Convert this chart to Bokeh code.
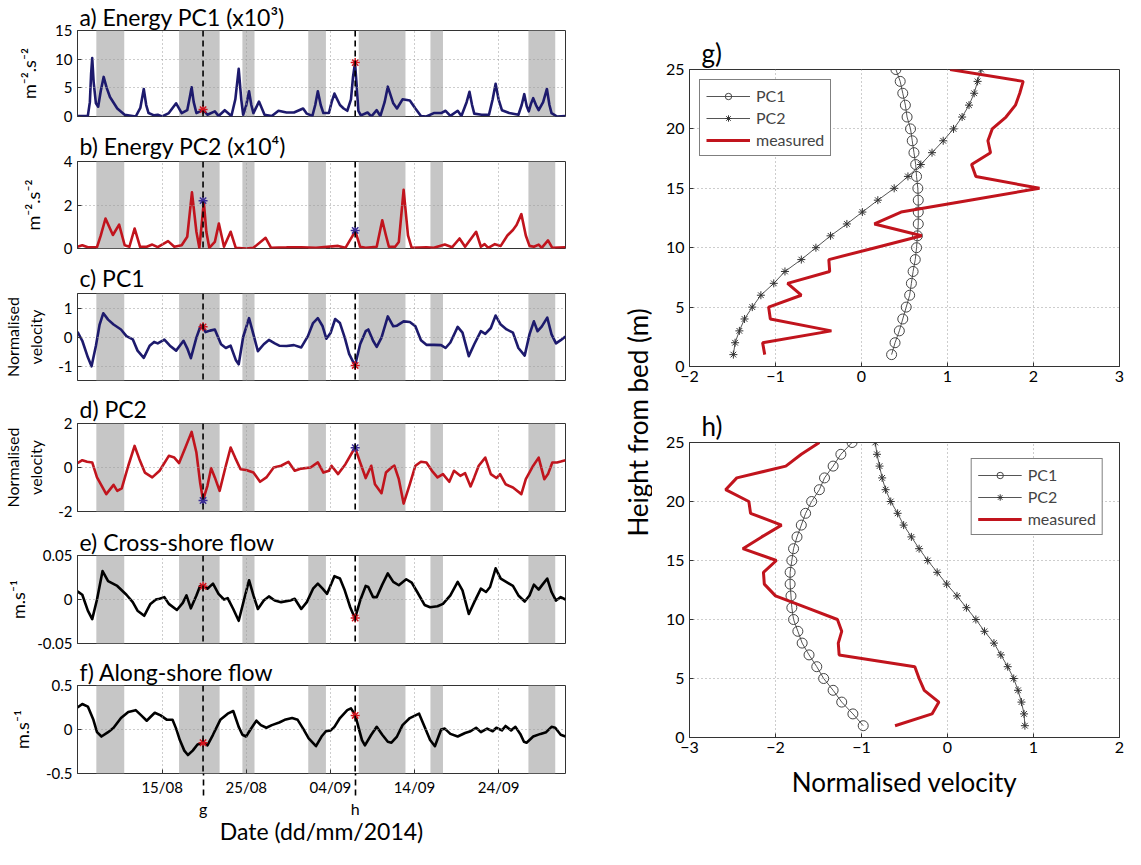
import math
from bokeh.plotting import figure
from bokeh.models import Range1d, FixedTicker, BoxAnnotation, Span, Legend, LegendItem, LinearAxis
from bokeh.layouts import row, column
from bokeh.embed import file_html
from bokeh.resources import INLINE
from bokeh.core.properties import value

FONT = "Lato"
NAVY = "#1d1a6d"
RED = "#c1141d"
STAR_RED = "#d4141e"
STAR_BLUE = "#3b2d96"
SHADE = "#c6c6c6"
GRIDC = "#9a9a9a"

# ---------------- time axis: days since 1 Aug 2014 00:00 ----------------
T_START, T_END = 3.93, 61.96
DATE_TICKS = [14, 24, 34, 44, 54]
DATE_LABELS = ["15/08", "25/08", "04/09", "14/09", "24/09"]
EVENT_T = [18.86, 36.95]
EVENT_LABELS = ["g", "h"]
SHADE_START = [6.17, 16.01, 23.54, 31.37, 37.37, 45.90, 57.55]
SHADE_END = [9.49, 20.83, 24.98, 33.47, 42.93, 47.39, 60.74]

# a) Energy PC1 (x10^3)
A_DATA = [(3.93,0.1),(5.16,0.1),(5.40,2.5),(5.55,7.5),(5.68,10.2),(5.85,6.0),(6.12,2.3),(6.39,1.7),
          (6.70,4.5),(7.04,6.9),(7.40,5.0),(7.79,3.4),(8.66,1.4),(9.54,0.3),(10.85,0.0),(11.40,1.5),
          (11.81,4.8),(12.10,2.0),(12.38,0.6),(13.04,0.2),(13.47,0.3),(14.00,0.0),(14.79,0.6),(15.66,2.3),
          (16.32,0.6),(16.98,1.1),(17.30,3.5),(17.50,5.1),(17.75,2.5),(18.07,0.6),(18.55,0.9),(18.86,1.2),
          (19.38,0.3),(20.26,0.9),(20.70,0.1),(21.44,1.1),(22.23,0.1),(22.70,3.0),(23.10,8.3),(23.40,3.0),
          (23.63,0.3),(24.00,2.0),(24.33,4.4),(24.60,2.0),(24.85,0.6),(25.51,2.6),(26.17,0.3),(27.04,0.1),
          (27.83,1.0),(28.79,0.7),(29.67,0.7),(30.76,1.4),(31.20,0.5),(31.86,0.1),(32.20,2.0),(32.51,4.4),
          (32.85,2.0),(33.17,0.6),(33.83,0.6),(34.15,2.5),(34.48,4.0),(35.14,2.0),(35.58,1.4),(36.01,1.0),
          (36.45,3.0),(36.70,7.0),(36.93,9.3),(37.10,6.0),(37.33,1.0),(37.63,0.2),(38.42,0.7),(38.86,0.0),
          (39.51,1.1),(39.95,0.1),(40.45,2.5),(40.83,5.2),(41.48,2.3),(41.92,1.4),(42.58,3.0),(43.45,2.8),
          (44.11,1.4),(44.77,0.1),(45.42,0.0),(46.30,0.6),(47.17,0.6),(47.70,1.0),(48.27,0.1),(49.14,1.0),
          (49.58,0.1),(50.20,2.5),(50.54,4.3),(50.85,2.0),(51.11,0.5),(51.99,0.3),(52.86,0.3),(53.30,3.0),
          (53.65,5.7),(54.00,3.0),(54.40,1.1),(55.27,0.6),(56.36,0.3),(56.75,2.0),(57.06,3.9),(57.35,1.8),
          (57.59,0.9),(57.85,2.2),(58.12,3.2),(58.45,2.0),(58.77,1.1),(59.30,2.5),(59.75,4.8),(60.05,2.0),
          (60.30,0.6),(60.96,0.0),(61.96,0.1)]
A_STARS = [1.2, 9.4]

# b) Energy PC2 (x10^4)
B_DATA = [(3.93,0.08),(4.50,0.15),(5.16,0.06),(6.25,0.06),(6.70,0.6),(7.26,1.38),(8.14,0.62),(8.88,1.1),
          (9.54,0.15),(10.10,0.08),(10.72,0.92),(11.37,0.08),(12.16,0.08),(12.82,0.18),(13.47,0.06),
          (14.70,0.34),(15.44,0.08),(16.32,0.15),(16.98,0.54),(17.54,2.58),(18.07,0.77),(18.42,0.03),
          (18.73,1.23),(18.95,2.15),(19.25,0.77),(19.60,0.03),(20.26,0.3),(20.74,1.15),(21.35,0.08),
          (22.14,0.77),(22.75,0.03),(23.98,0.0),(24.85,0.03),(26.30,0.49),(26.95,0.03),(28.79,0.05),
          (29.23,0.06),(30.54,0.05),(32.29,0.03),(34.92,0.12),(35.79,0.03),(36.67,0.6),(36.93,0.85),
          (37.54,0.08),(38.20,0.03),(39.51,0.08),(40.17,1.3),(40.61,0.6),(40.96,0.08),(41.70,0.08),
          (42.14,0.3),(42.71,2.7),(43.23,0.6),(43.67,0.03),(45.42,0.06),(46.30,0.03),(47.61,0.18),
          (48.49,0.06),(49.36,0.46),(50.02,0.08),(51.33,0.77),(51.90,0.08),(52.34,0.2),(52.77,0.03),
          (53.56,0.2),(54.26,0.12),(55.05,0.6),(55.71,0.85),(56.14,1.08),(56.71,1.58),(57.24,0.6),
          (57.68,0.12),(58.20,0.08),(58.77,0.18),(59.13,0.03),(59.88,0.37),(60.39,0.03),(61.96,0.06)]
B_STARS = [2.2, 0.83]

# c) PC1
C_DATA = [(3.93,0.18),(4.50,-0.13),(5.16,-0.70),(5.60,-1.01),(6.12,-0.30),(6.56,0.43),(7.00,0.82),
          (7.57,0.60),(8.22,0.43),(9.10,0.26),(9.75,0.03),(10.50,-0.08),(11.07,-0.47),(11.81,-0.72),
          (12.51,-0.30),(13.04,-0.17),(13.47,-0.22),(14.26,-0.09),(14.92,-0.30),(15.66,-0.47),
          (16.54,-0.13),(16.98,-0.39),(17.41,-0.73),(18.07,-0.02),(18.55,0.37),(18.86,0.34),(19.16,0.17),
          (19.69,0.22),(20.26,0.26),(21.00,-0.25),(21.57,-0.38),(22.14,-0.30),(22.75,-0.79),(23.10,-0.94),
          (23.63,0.0),(24.33,0.65),(24.85,0.09),(25.38,-0.49),(26.08,-0.25),(26.69,-0.10),(27.39,-0.22),
          (27.92,-0.30),(28.79,-0.31),(29.67,-0.28),(30.54,-0.36),(31.33,0.03),(31.94,0.48),(32.51,0.65),
          (33.08,0.37),(33.52,-0.06),(34.04,0.15),(34.57,0.62),(35.14,0.48),(35.71,-0.02),(36.23,-0.58),
          (36.93,-0.99),(37.54,-0.25),(38.20,0.20),(38.51,0.26),(39.08,-0.13),(39.51,-0.34),(40.08,-0.02),
          (40.83,0.71),(41.48,0.37),(41.92,0.39),(42.71,0.54),(43.45,0.52),(44.11,0.37),(44.77,-0.11),
          (45.42,-0.27),(46.30,-0.27),(47.17,-0.28),(47.70,-0.38),(48.27,-0.19),(49.14,0.35),(49.71,0.15),
          (50.46,-0.66),(51.11,-0.25),(51.90,0.20),(52.42,0.11),(53.08,0.31),(53.65,0.74),(54.26,0.43),
          (54.96,0.26),(55.71,0.15),(56.36,-0.38),(57.11,-0.64),(57.68,0.09),(58.20,0.54),(58.64,0.20),
          (59.13,0.36),(59.79,0.67),(60.30,0.09),(60.83,-0.22),(61.39,-0.11),(61.96,0.02)]
C_STARS = [0.35, -0.98]

# d) PC2
D_DATA = [(3.93,0.20),(4.50,0.33),(5.07,0.26),(5.68,0.23),(6.25,-0.45),(7.35,-1.21),(8.22,-0.79),
          (8.66,-1.06),(9.19,-0.95),(9.97,0.08),(10.72,0.98),(11.29,0.38),(11.94,-0.23),(12.82,-0.45),
          (13.69,-0.15),(14.79,0.53),(15.44,0.45),(16.01,0.20),(16.76,0.91),(17.50,1.62),(18.07,0.68),
          (18.51,-0.68),(18.86,-1.48),(19.38,-0.83),(19.82,-0.03),(20.26,-0.45),(20.83,-1.06),(21.57,0.08),
          (22.14,0.91),(22.67,0.45),(23.32,-0.08),(23.98,-0.11),(24.85,-0.23),(25.64,-0.65),(26.39,-0.45),
          (27.26,0.0),(28.14,0.08),(29.01,0.26),(29.76,-0.15),(30.54,-0.05),(31.64,0.0),(32.51,0.23),
          (33.17,-0.23),(33.83,-0.15),(34.13,0.08),(34.92,-0.30),(35.79,0.15),(36.93,0.91),(37.54,0.23),
          (38.20,-0.48),(38.86,0.08),(39.30,-0.76),(40.08,-1.17),(40.61,-0.23),(41.26,0.0),(41.61,0.08),
          (42.14,-0.53),(42.71,-1.64),(43.45,-0.76),(44.11,0.08),(44.77,0.26),(45.42,0.23),(46.08,-0.15),
          (46.74,-0.45),(47.39,-0.30),(48.14,-0.65),(48.70,-0.15),(49.45,-0.38),(50.02,-0.26),(50.67,-0.86),
          (51.11,-0.45),(51.64,0.08),(52.42,0.45),(53.08,-0.30),(53.74,-0.48),(54.18,-0.30),(54.83,-0.76),
          (55.71,-0.91),(56.71,-1.21),(57.24,-0.53),(58.12,0.08),(58.77,0.45),(59.44,-0.53),(59.88,-0.30),
          (60.39,0.23),(60.96,0.23),(61.39,0.27),(61.96,0.33)]
D_STARS = [-1.5, 0.9]

# e) Cross-shore flow (m/s)
E_DATA = [(3.93,0.0092),(4.50,0.0054),(5.16,-0.0127),(5.68,-0.0223),(6.25,0.0),(6.91,0.0323),
          (7.57,0.0208),(8.66,0.0154),(9.75,0.0054),(10.50,-0.003),(11.07,-0.0127),(11.86,-0.0185),
          (12.60,-0.005),(13.26,0.0),(13.69,0.0008),(14.26,0.0027),(14.79,-0.005),(15.75,-0.0119),
          (16.45,-0.0038),(16.89,0.0046),(17.41,-0.010),(18.07,0.0046),(18.51,0.0154),(18.86,0.0154),
          (19.38,0.0123),(20.04,0.018),(20.70,0.0065),(21.35,0.0),(21.79,0.0015),(22.45,-0.0108),
          (23.10,-0.0242),(23.76,0.0008),(24.33,0.0219),(24.85,0.0046),(25.38,-0.0108),(26.08,-0.0012),
          (26.69,0.0035),(27.39,-0.0012),(28.14,-0.003),(29.23,-0.0012),(29.76,0.0008),(30.54,-0.0108),
          (31.20,-0.003),(31.94,0.0123),(32.51,0.018),(33.08,0.0123),(33.61,0.0065),(34.48,0.0265),
          (35.14,0.0238),(35.71,0.0104),(36.36,-0.0088),(36.93,-0.0215),(37.54,-0.0012),(38.20,0.0154),
          (38.51,0.0142),(39.08,0.0027),(39.51,0.0027),(40.17,0.0169),(40.83,0.0296),(41.48,0.020),
          (42.14,0.0162),(43.02,0.023),(43.67,0.0192),(44.33,0.0085),(45.20,-0.0062),(45.86,-0.0088),
          (46.74,-0.0077),(47.39,-0.005),(48.27,0.0046),(49.14,0.020),(49.71,0.0104),(50.46,-0.0165),
          (51.11,-0.003),(51.90,0.0123),(52.51,0.0085),(52.99,0.0142),(53.65,0.0354),(54.26,0.0238),
          (55.05,0.0192),(55.71,0.0154),(56.36,0.0046),(57.11,-0.0023),(57.68,0.0046),(58.20,0.0169),
          (58.77,0.0112),(59.22,0.0169),(59.79,0.0238),(60.30,0.0085),(60.83,-0.0012),(61.39,0.0027),
          (61.96,0.0)]
E_STARS = [0.015, -0.021]

# f) Along-shore flow (m/s)
F_DATA = [(3.93,0.25),(4.50,0.29),(5.16,0.26),(5.82,0.11),(6.25,-0.03),(6.78,-0.08),(7.57,-0.03),
          (8.22,0.02),(9.10,0.13),(9.97,0.20),(10.85,0.22),(11.51,0.16),(12.16,0.10),(12.69,0.15),
          (13.12,0.19),(13.82,0.16),(14.57,0.11),(15.23,0.11),(15.66,0.01),(16.10,-0.12),(16.63,-0.24),
          (17.06,-0.29),(17.63,-0.24),(18.20,-0.17),(18.86,-0.15),(19.38,-0.18),(20.04,-0.06),(20.91,0.11),
          (21.79,0.18),(22.45,0.21),(23.10,0.03),(23.54,-0.06),(23.98,-0.08),(24.50,0.0),(25.20,0.10),
          (25.73,0.05),(26.39,0.02),(27.04,0.05),(27.92,0.08),(28.57,0.11),(29.45,0.13),(30.11,0.11),
          (30.76,0.01),(31.42,-0.10),(32.29,-0.19),(32.95,-0.08),(33.47,-0.02),(34.04,-0.01),(34.48,0.03),
          (35.14,0.13),(36.01,0.22),(36.45,0.24),(36.98,0.16),(37.33,0.03),(37.76,-0.12),(38.11,-0.18),
          (38.86,-0.06),(39.51,0.03),(40.17,-0.06),(40.83,-0.14),(41.26,-0.15),(41.92,-0.08),(42.58,0.05),
          (43.45,0.13),(44.55,0.18),(45.20,0.03),(45.86,-0.12),(46.43,-0.19),(47.17,0.0),(47.61,0.01),
          (48.27,-0.05),(49.14,-0.08),(50.02,-0.04),(50.67,-0.02),(51.33,0.02),(51.90,-0.03),(52.64,0.01),
          (53.30,-0.02),(53.74,0.02),(54.40,-0.01),(54.83,0.04),(55.49,-0.01),(56.01,0.03),(56.58,-0.05),
          (57.02,-0.14),(57.33,-0.15),(58.12,-0.08),(58.99,-0.05),(59.66,-0.03),(60.30,0.03),(60.74,0.02),
          (61.39,-0.06),(61.96,-0.08)]
F_STARS = [-0.15, 0.16]

# ---------------- vertical profiles ----------------
HEIGHTS = [1, 2, 3, 4, 5, 6, 7, 8, 9, 10, 11, 12, 13, 14, 15, 16, 17, 18, 19, 20, 21, 22, 23, 24, 25]
H_TICKS = [0, 5, 10, 15, 20, 25]
G_XTICKS = [-2, -1, 0, 1, 2, 3]
H_XTICKS = [-3, -2, -1, 0, 1, 2]
G_PC1 = [0.35, 0.39, 0.44, 0.48, 0.52, 0.56, 0.58, 0.60, 0.625, 0.64, 0.65, 0.66, 0.66, 0.66, 0.655,
         0.64, 0.63, 0.61, 0.59, 0.57, 0.53, 0.51, 0.48, 0.45, 0.40]
G_PC2 = [-1.49, -1.47, -1.42, -1.36, -1.27, -1.17, -1.02, -0.89, -0.70, -0.53, -0.36, -0.17, 0.01, 0.19,
         0.38, 0.54, 0.69, 0.82, 0.95, 1.07, 1.17, 1.25, 1.31, 1.35, 1.39]
G_MEAS = [-1.125, -1.15, -0.35, -1.06, -1.08, -0.70, -0.86, -0.37, -0.38, 0.16, 0.70, 0.15, 0.46, 1.26,
          2.07, 1.33, 1.28, 1.50, 1.47, 1.52, 1.68, 1.79, 1.84, 1.88, 1.03]
H_PC1 = [-0.98, -1.10, -1.23, -1.33, -1.44, -1.52, -1.61, -1.69, -1.74, -1.79, -1.81, -1.82, -1.83, -1.83,
         -1.81, -1.79, -1.75, -1.70, -1.65, -1.58, -1.49, -1.43, -1.33, -1.24, -1.11]
H_PC2 = [0.90, 0.89, 0.86, 0.82, 0.77, 0.70, 0.62, 0.54, 0.43, 0.33, 0.22, 0.11, -0.01, -0.12, -0.23,
         -0.33, -0.42, -0.51, -0.58, -0.66, -0.72, -0.76, -0.79, -0.82, -0.84]
H_MEAS = [-0.61, -0.18, -0.10, -0.27, -0.33, -0.38, -1.26, -1.27, -1.23, -1.28, -1.64, -2.00, -2.13, -2.14,
          -1.99, -2.38, -2.16, -1.93, -2.29, -2.31, -2.58, -2.45, -1.88, -1.70, -1.49]

PANELS = [
    dict(title="a) Energy PC1 (x10\u00b3)", data=A_DATA, stars=A_STARS, color=NAVY, star=STAR_RED,
         ylim=(0, 15), yticks=[0, 5, 10, 15], ylabels=["0", "5", "10", "15"],
         ylabel="m\u207b\u00b2.s\u207b\u00b2", top=29, fh=87, bottom=11, standoff=0, lstand=12),
    dict(title="b) Energy PC2 (x10\u2074)", data=B_DATA, stars=B_STARS, color=RED, star=STAR_BLUE,
         ylim=(0, 4), yticks=[0, 2, 4], ylabels=["0", "2", "4"],
         ylabel="m\u207b\u00b2.s\u207b\u00b2", top=34, fh=87, bottom=11, standoff=3, lstand=17),
    dict(title="c) PC1", data=C_DATA, stars=C_STARS, color=NAVY, star=STAR_RED,
         ylim=(-1.5, 1.5), yticks=[-1, 0, 1], ylabels=["-1", "0", "1"],
         ylabel="Normalised\nvelocity", top=34, fh=87, bottom=11, standoff=3, lstand=10),
    dict(title="d) PC2", data=D_DATA, stars=D_STARS, color=RED, star=STAR_BLUE,
         ylim=(-2, 2), yticks=[-2, 0, 2], ylabels=["-2", "0", "2"],
         ylabel="Normalised\nvelocity", top=32, fh=88, bottom=11, standoff=1, lstand=10),
    dict(title="e) Cross-shore flow", data=E_DATA, stars=E_STARS, color="black", star=STAR_RED,
         ylim=(-0.05, 0.05), yticks=[-0.05, 0, 0.05], ylabels=["-0.05", "0", "0.05"],
         ylabel="m.s\u207b\u00b9", top=33, fh=88, bottom=11, standoff=0, lstand=5),
    dict(title="f) Along-shore flow", data=F_DATA, stars=F_STARS, color="black", star=STAR_RED,
         ylim=(-0.5, 0.5), yticks=[-0.5, 0, 0.5], ylabels=["-0.5", "0", "0.5"],
         ylabel="m.s\u207b\u00b9", top=31, fh=88, bottom=75, standoff=0, lstand=10, last=True),
]

LW = 600
LB_LEFT, LB_RIGHT = 73, 35
XR = Range1d(T_START, T_END)
EVENT_DASH_LEN = 22


def style_axis(ax, size="15px"):
    ax.major_label_text_font = FONT
    ax.major_label_text_font_size = size
    ax.major_label_text_color = "black"
    ax.axis_label_text_font = FONT
    ax.axis_label_text_font_style = "normal"
    ax.axis_label_text_color = "black"
    ax.axis_line_color = "#333333"
    ax.major_tick_in = 4
    ax.major_tick_out = 0
    ax.major_tick_line_color = "#333333"
    ax.minor_tick_line_color = None
    ax.major_label_standoff = 5


def time_panel(cfg):
    last = cfg.get("last", False)
    p = figure(width=LW, height=cfg["top"] + cfg["fh"] + cfg["bottom"], x_range=XR,
               y_range=Range1d(cfg["ylim"][0], cfg["ylim"][1]),
               x_axis_location="below" if last else None,
               output_backend="svg", toolbar_location=None,
               min_border_left=LB_LEFT, min_border_right=LB_RIGHT,
               min_border_top=cfg["top"], min_border_bottom=cfg["bottom"], title=cfg["title"])
    p.title.text_font = FONT
    p.title.text_font_size = "23px"
    p.title.text_font_style = "normal"
    p.title.text_color = "black"
    p.title.align = "left"
    p.title.offset = 2
    p.title.standoff = cfg["standoff"]
    p.outline_line_color = "#333333"
    p.outline_line_width = 1
    p.background_fill_color = "white"
    p.border_fill_color = "white"

    ax = p.yaxis[0]
    style_axis(ax)
    ax.ticker = FixedTicker(ticks=cfg["yticks"])
    ax.major_label_overrides = dict(zip(cfg["yticks"], cfg["ylabels"]))
    ax.axis_label = cfg["ylabel"]
    ax.axis_label_text_font_size = "16px" if "\n" in cfg["ylabel"] else "18px"
    ax.axis_label_standoff = cfg["lstand"]

    if last:
        # date axis; the event lines g/h continue below it as long dashed minor ticks
        xa = p.xaxis[0]
        style_axis(xa, "15px")
        xa.ticker = FixedTicker(ticks=DATE_TICKS, minor_ticks=EVENT_T)
        xa.major_label_overrides = dict(zip(DATE_TICKS, DATE_LABELS))
        xa.axis_line_color = None
        xa.minor_tick_in = 0
        xa.minor_tick_out = EVENT_DASH_LEN
        xa.minor_tick_line_color = "black"
        xa.minor_tick_line_dash = "6 4"
        xa.minor_tick_line_width = 1.6
        # keep the date labels right under the frame despite the long minor ticks
        xa.major_label_standoff = 4 - EVENT_DASH_LEN
        # second axis underneath: the event letters and the axis title
        ev = LinearAxis(ticker=FixedTicker(ticks=EVENT_T))
        style_axis(ev, "16px")
        ev.major_label_overrides = dict(zip(EVENT_T, EVENT_LABELS))
        ev.axis_line_color = None
        ev.major_tick_line_color = None
        ev.major_tick_in = 0
        ev.major_tick_out = 0
        ev.major_label_standoff = 0
        ev.axis_label = "Date (dd/mm/2014)"
        ev.axis_label_text_font_size = "23px"
        ev.axis_label_standoff = -4
        p.add_layout(ev, "below")

    p.xgrid.ticker = FixedTicker(ticks=DATE_TICKS)
    p.ygrid.ticker = FixedTicker(ticks=cfg["yticks"])
    p.grid.grid_line_color = GRIDC
    p.grid.grid_line_dash = "1 3"
    p.grid.grid_line_width = 1
    p.grid.level = "glyph"

    for s, e in zip(SHADE_START, SHADE_END):
        p.add_layout(BoxAnnotation(left=s, right=e, fill_color=SHADE, fill_alpha=1.0,
                                   line_color=None, level="underlay"))

    t = [d[0] for d in cfg["data"]]
    v = [d[1] for d in cfg["data"]]
    p.line(t, v, line_color=cfg["color"], line_width=2.6, line_join="round")

    for et in EVENT_T:
        p.add_layout(Span(location=et, dimension="height", line_color="black",
                          line_dash="6 4", line_width=1.6))
    p.scatter(EVENT_T, cfg["stars"], marker="asterisk", size=9,
              line_color=cfg["star"], line_width=1.5)
    return p


left = column(*[time_panel(c) for c in PANELS])

# ---------------- right column ----------------
RW = 473
RH_TOTAL = 800


def profile(title, xr, xticks, pc1, pc2, meas, loc, top, fh, bottom, xlabel=None):
    p = figure(width=RW, height=top + fh + bottom, x_range=Range1d(xr[0], xr[1]),
               y_range=Range1d(0, 25), output_backend="svg", toolbar_location=None,
               min_border_left=37, min_border_right=6, min_border_top=top,
               min_border_bottom=bottom, title=title)
    p.title.text_font = FONT
    p.title.text_font_size = "26px"
    p.title.text_font_style = "normal"
    p.title.text_color = "black"
    p.title.align = "left"
    p.title.offset = 12
    p.title.standoff = 2
    p.outline_line_color = "#333333"
    for ax in (p.xaxis[0], p.yaxis[0]):
        style_axis(ax, "16px")
    p.xaxis.ticker = FixedTicker(ticks=xticks)
    p.yaxis.ticker = FixedTicker(ticks=H_TICKS)
    p.xaxis.major_label_standoff = 4
    if xlabel:
        p.xaxis.axis_label = xlabel
        p.xaxis.axis_label_text_font_size = "26px"
        p.xaxis.axis_label_standoff = 10
    p.grid.grid_line_color = GRIDC
    p.grid.grid_line_dash = "1 3"
    p.xgrid.ticker = FixedTicker(ticks=xticks)
    p.ygrid.ticker = FixedTicker(ticks=H_TICKS)

    r1l = p.line(pc1, HEIGHTS, line_color="#555555", line_width=1)
    r1s = p.scatter(pc1, HEIGHTS, marker="circle", size=10, fill_color=None,
                    line_color="#444444", line_width=1)
    r2l = p.line(pc2, HEIGHTS, line_color="#555555", line_width=1)
    r2s = p.scatter(pc2, HEIGHTS, marker="asterisk", size=8, line_color="#333333", line_width=1)
    r3 = p.line(meas, HEIGHTS, line_color=RED, line_width=3)

    leg = Legend(items=[LegendItem(label="PC1", renderers=[r1l, r1s]),
                        LegendItem(label="PC2", renderers=[r2l, r2s]),
                        LegendItem(label="measured", renderers=[r3])],
                 location=loc)
    leg.border_line_color = "black"
    leg.border_line_width = 1
    leg.background_fill_color = "white"
    leg.background_fill_alpha = 1
    leg.label_text_font = FONT
    leg.label_text_font_size = "16px"
    leg.glyph_width = 44
    leg.glyph_height = 16
    leg.label_height = 16
    leg.spacing = 3
    leg.padding = 6
    leg.margin = 10
    leg.label_standoff = 6
    p.add_layout(leg)
    return p


g_fig = profile("g)", (-2, 3), G_XTICKS, G_PC1, G_PC2, G_MEAS, "top_left", 69, 297, 30)
h_fig = profile("h)", (-3, 2), H_XTICKS, H_PC1, H_PC2, H_MEAS, "top_right", 46, 298, 60,
                xlabel="Normalised velocity")
h_fig.legend[0].margin = 16

labelfig = figure(width=52, height=RH_TOTAL, x_range=Range1d(0, 52), y_range=Range1d(0, RH_TOTAL),
                  x_axis_location=None, y_axis_location=None, output_backend="svg",
                  toolbar_location=None, min_border=0)
labelfig.outline_line_color = None
labelfig.grid.visible = False
labelfig.text(x=[37], y=[RH_TOTAL - 422], text=["Height from bed (m)"], angle=math.pi / 2,
              text_align="center", text_baseline="middle", text_font=value(FONT),
              text_font_size="26px", text_color="black")

layout = row(left, labelfig, column(g_fig, h_fig))

open("out.html", "w").write(file_html(layout, INLINE))
